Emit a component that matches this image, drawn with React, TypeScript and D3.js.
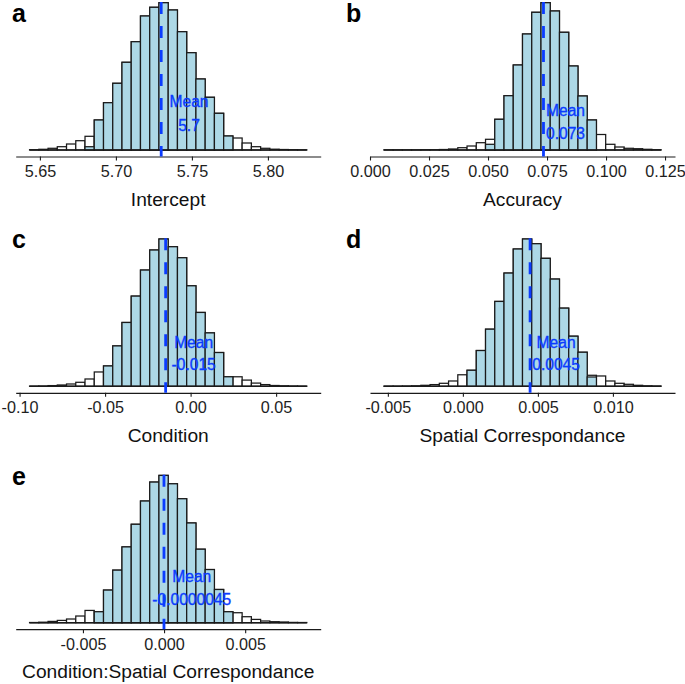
import React, { useRef, useEffect } from 'react';
import * as d3 from 'd3';

// Posterior sample histograms (30 bins each). *Counts = all samples, *Ci = samples in the 95% CI.
const interceptCounts = [3, 7, 17, 33, 60, 93, 137, 300, 473, 667, 877, 1083, 1340, 1427, 1473, 1400, 1183, 973, 710, 527, 367, 140, 120, 70, 33, 17, 8, 5, 3, 2];
const interceptCi = [0, 0, 0, 0, 0, 0, 33, 300, 473, 667, 877, 1083, 1340, 1427, 1473, 1400, 1183, 973, 710, 527, 367, 140, 0, 0, 0, 0, 0, 0, 0, 0];

const accuracyCounts = [2, 2, 2, 2, 3, 3, 5, 10, 23, 40, 73, 107, 307, 543, 850, 1160, 1377, 1473, 1390, 1177, 840, 540, 300, 155, 57, 30, 17, 13, 7, 3];
const accuracyCi = [0, 0, 0, 0, 0, 0, 0, 0, 0, 0, 0, 57, 307, 543, 850, 1160, 1377, 1473, 1390, 1177, 840, 540, 300, 0, 0, 0, 0, 0, 0, 0];

const conditionCounts = [2, 3, 7, 13, 23, 40, 73, 143, 203, 403, 637, 900, 1160, 1360, 1470, 1393, 1283, 1003, 737, 533, 337, 95, 95, 62, 32, 17, 8, 5, 3, 2];
const conditionCi = [0, 0, 0, 0, 0, 0, 0, 0, 203, 403, 637, 900, 1160, 1360, 1470, 1393, 1283, 1003, 737, 533, 337, 95, 0, 0, 0, 0, 0, 0, 0, 0];

const spatialCounts = [2, 2, 3, 5, 10, 17, 30, 53, 115, 160, 357, 570, 847, 1130, 1370, 1470, 1423, 1277, 1070, 780, 500, 340, 110, 103, 53, 30, 20, 10, 5, 3];
const spatialCi = [0, 0, 0, 0, 0, 0, 0, 0, 0, 160, 357, 570, 847, 1130, 1370, 1470, 1423, 1277, 1070, 780, 500, 340, 93, 0, 0, 0, 0, 0, 0, 0];

const interactionCounts = [2, 5, 13, 23, 37, 67, 123, 110, 327, 527, 760, 987, 1220, 1410, 1477, 1393, 1243, 1000, 737, 533, 333, 110, 100, 60, 33, 17, 10, 7, 3, 2];
const interactionCi = [0, 0, 0, 0, 0, 0, 0, 110, 327, 527, 760, 987, 1220, 1410, 1477, 1393, 1243, 1000, 737, 533, 333, 110, 0, 0, 0, 0, 0, 0, 0, 0];

const interceptTicks = [5.65, 5.70, 5.75, 5.80];
const interceptTickLabels = ['5.65', '5.70', '5.75', '5.80'];
const accuracyTicks = [0, 0.025, 0.05, 0.075, 0.1, 0.125];
const accuracyTickLabels = ['0.000', '0.025', '0.050', '0.075', '0.100', '0.125'];
const conditionTicks = [-0.1, -0.05, 0, 0.05];
const conditionTickLabels = ['-0.10', '-0.05', '0.00', '0.05'];
const spatialTicks = [-0.005, 0, 0.005, 0.01];
const spatialTickLabels = ['-0.005', '0.000', '0.005', '0.010'];
const interactionTicks = [-0.005, 0, 0.005];
const interactionTickLabels = ['-0.005', '0.000', '0.005'];

const panelLetters = ['a', 'b', 'c', 'd', 'e'];
const panelTitles = ['Intercept', 'Accuracy', 'Condition', 'Spatial Correspondance', 'Condition:Spatial Correspondance'];
const binStarts = [5.6432, 0.00587, -0.09416, -0.005266, -0.00829];
const binWidths = [0.00608, 0.003916, 0.005404, 0.000616, 0.0005697];
const means = [5.7298, 0.0735, -0.0146, 0.00448, -0.0000045];
const meanLabels = ['5.7', '0.073', '-0.015', '0.0045', '-0.0000045'];

const panels = [
  { counts: interceptCounts, ci: interceptCi, ticks: interceptTicks, tickLabels: interceptTickLabels },
  { counts: accuracyCounts, ci: accuracyCi, ticks: accuracyTicks, tickLabels: accuracyTickLabels },
  { counts: conditionCounts, ci: conditionCi, ticks: conditionTicks, tickLabels: conditionTickLabels },
  { counts: spatialCounts, ci: spatialCi, ticks: spatialTicks, tickLabels: spatialTickLabels },
  { counts: interactionCounts, ci: interactionCi, ticks: interactionTicks, tickLabels: interactionTickLabels },
];

// layout
const WIDTH = 685;
const HEIGHT = 684;
const colLeft = [15.7, 370];
const plotWidth = 305;
const rowBaseline = [150, 386.3, 622.7];
const letterY = [22, 248.3, 485];
const letterX = [12, 346];
const barMax = 147.3;
// per panel placement of the "Mean" annotation: [dx from line, lift of "Mean", lift of value]
const meanTextPos = [[27.8, 43.5, 19.5], [22, 34.5, 11.5], [28, 38, 16], [26, 38, 16], [27.8, 40.7, 18]];

const FONT = '"Liberation Sans", Arial, Helvetica, sans-serif';
const BLUE = '#0b3cff';
const FILL = '#add8e6';
const INK = '#1a1a1a';

export default function App() {
  const svgRef = useRef<SVGSVGElement>(null);

  useEffect(() => {
    const svg = d3.select(svgRef.current);
    svg.selectAll('*').remove();
    svg.attr('width', WIDTH).attr('height', HEIGHT);

    panels.forEach((p, i) => {
      const col = i % 2;
      const row = Math.floor(i / 2);
      const base = rowBaseline[row];
      const axisY = base + 6.5;
      const n = p.counts.length;
      const lo = binStarts[i];
      const hi = lo + n * binWidths[i];
      const pad = (hi - lo) * 0.05;

      const x = d3.scaleLinear()
        .domain([lo - pad, hi + pad])
        .range([colLeft[col], colLeft[col] + plotWidth]);
      const y = d3.scaleLinear()
        .domain([0, d3.max(p.counts) as number])
        .range([base, base - barMax]);

      const g = svg.append('g');
      const edges = d3.range(n).map(k => lo + k * binWidths[i]);
      const bw = x(lo + binWidths[i]) - x(lo);

      // full histogram (white)
      g.append('g')
        .selectAll('rect')
        .data(p.counts)
        .enter()
        .append('rect')
        .attr('x', (d, k) => x(edges[k]))
        .attr('width', bw)
        .attr('y', d => y(d))
        .attr('height', d => base - y(d))
        .attr('fill', '#fff')
        .attr('stroke', INK)
        .attr('stroke-width', 1.25);

      // credible interval histogram (light blue)
      g.append('g')
        .selectAll('rect')
        .data(p.ci.map((d, k) => ({ d, k })).filter(o => o.d > 0))
        .enter()
        .append('rect')
        .attr('x', o => x(edges[o.k]))
        .attr('width', bw)
        .attr('y', o => y(o.d))
        .attr('height', o => base - y(o.d))
        .attr('fill', FILL)
        .attr('stroke', INK)
        .attr('stroke-width', 1.25);

      g.append('line')
        .attr('x1', x(lo))
        .attr('x2', x(hi))
        .attr('y1', base)
        .attr('y2', base)
        .attr('stroke', INK)
        .attr('stroke-width', 1.4);

      // axis
      const axis = d3.axisBottom(x)
        .tickValues(p.ticks)
        .tickFormat((d, k) => p.tickLabels[k])
        .tickSize(4)
        .tickSizeOuter(0)
        .tickPadding(5);
      const ag = g.append('g')
        .attr('transform', `translate(0,${axisY})`)
        .call(axis);
      ag.select('.domain').attr('stroke', INK).attr('stroke-width', 1.2);
      ag.selectAll('.tick line').attr('stroke', INK).attr('stroke-width', 1.1);
      ag.selectAll('.tick text')
        .attr('fill', '#1e1e1e')
        .style('font-family', FONT)
        .style('font-size', '16.2px');

      g.append('text')
        .attr('x', colLeft[col] + plotWidth / 2)
        .attr('y', axisY + 49)
        .attr('text-anchor', 'middle')
        .style('font-family', FONT)
        .style('font-size', '19.2px')
        .attr('fill', '#111')
        .text(panelTitles[i]);

      g.append('text')
        .attr('x', letterX[col])
        .attr('y', letterY[row])
        .style('font-family', FONT)
        .style('font-size', '25px')
        .style('font-weight', 'bold')
        .attr('fill', '#000')
        .text(panelLetters[i]);

      // mean line and annotation
      const mx = x(means[i]);
      g.append('line')
        .attr('x1', mx)
        .attr('x2', mx)
        .attr('y1', base - 148)
        .attr('y2', axisY)
        .attr('stroke', BLUE)
        .attr('stroke-width', 2.8)
        .attr('stroke-dasharray', '12,12');

      const [dx, liftMean, liftVal] = meanTextPos[i];
      [['Mean', liftMean], [meanLabels[i], liftVal]].forEach(([txt, lift]) => {
        g.append('text')
          .attr('x', mx + dx)
          .attr('y', base - (lift as number))
          .attr('text-anchor', 'middle')
          .style('font-family', FONT)
          .style('font-size', '15.6px')
          .attr('fill', BLUE)
          .attr('stroke', BLUE)
          .attr('stroke-width', 0.35)
          .text(txt as string);
      });
    });
  }, []);

  return (
    <div style={{ position: 'absolute', left: 0, top: 0 }}>
      <svg ref={svgRef} style={{ display: 'block', background: '#fff' }} />
    </div>
  );
}
